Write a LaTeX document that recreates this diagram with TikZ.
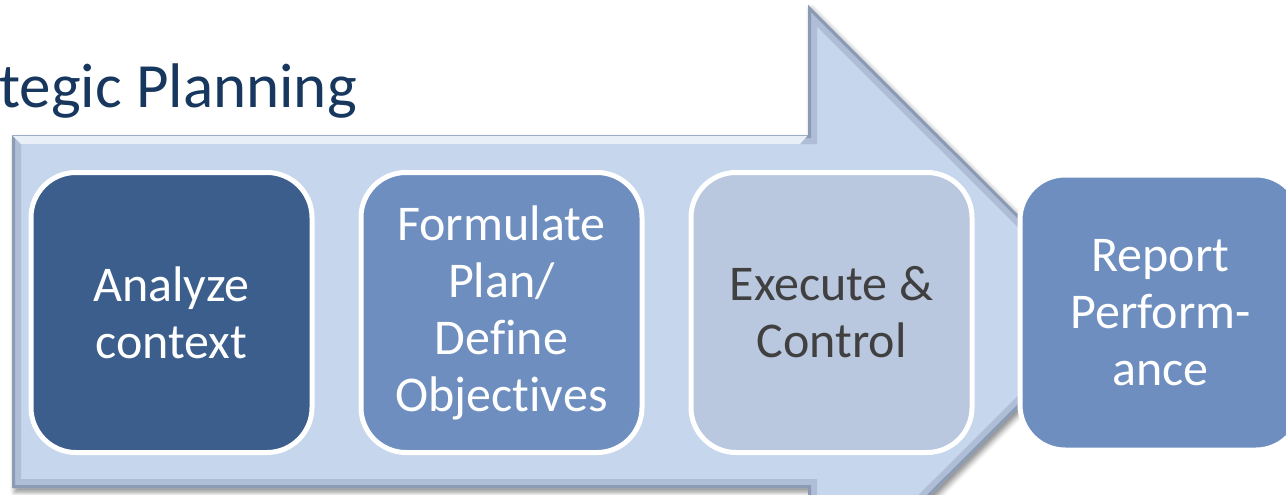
\documentclass[tikz,border=0pt]{standalone}
\usepackage{fontspec}
\setmainfont[Ligatures=NoCommon]{Carlito}
\usepackage{tikz}
\usetikzlibrary{positioning,shadows.blur}
\definecolor{titleNavy}{RGB}{23,55,94}
\definecolor{arrowFill}{RGB}{198,214,236}
\definecolor{arrowEdge}{RGB}{140,155,180}
\definecolor{stageDark}{RGB}{59,94,140}
\definecolor{stageMid}{RGB}{110,142,191}
\definecolor{stageLight}{RGB}{185,199,223}
\definecolor{textGrey}{RGB}{64,64,64}

\begin{document}
\begin{tikzpicture}[x=1pt,y=-1pt,
  stage/.style={rectangle,draw=white,line width=5pt,rounded corners=45pt,
                minimum width=281pt,minimum height=280pt,align=center,inner sep=0pt,
                text=white,font=\fontsize{50}{57}\selectfont},
  bigarrow/.style={fill=arrowFill,line join=miter},
  bevel/.style={line width=#1,line join=miter}
]
  \useasboundingbox (0,0) rectangle (1286,495);
  \clip (0,0) rectangle (1286,495);
  % block arrow behind the stages
  \def\arrowpath{(12,135) -- (808,135) -- (808,5) -- (1115,311.5) -- (808,618)
                 -- (808,488) -- (12,488) -- cycle}
  \fill[bigarrow,blur shadow={shadow xshift=3pt,shadow yshift=-4pt,
        shadow blur radius=5pt,shadow opacity=45}] \arrowpath;
  \begin{scope}
    \clip \arrowpath;
    \draw[bevel=18pt,arrowEdge!40!arrowFill] \arrowpath;
    \draw[bevel=6pt,arrowEdge] \arrowpath;
    % light top face
    \fill[white!60!arrowFill] (12,135) -- (808,135) -- (800,144) -- (21,144) -- cycle;
    \draw[bevel=2pt,arrowEdge!70!arrowFill] (12,135) -- (808,135);
  \end{scope}

  \node[font=\fontsize{63}{70}\selectfont,text=titleNavy,anchor=base east,
        inner sep=0pt] (title) at (357,107) {Strategic Planning};

  \node[stage,fill=stageDark] (analyze) at (171.5,312.5) {Analyze\\context};
  \node[stage,fill=stageMid,right=44pt of analyze] (formulate)
       {Formulate\\Plan/\\Define\\Objectives};
  \node[stage,fill=stageLight,text=textGrey,right=44pt of formulate] (execute)
       {Execute \&\\Control};
  \node[stage,fill=stageMid,minimum height=275pt,right=43pt of execute] (report)
       {Report\\Perform-\\ance};
\end{tikzpicture}
\end{document}
